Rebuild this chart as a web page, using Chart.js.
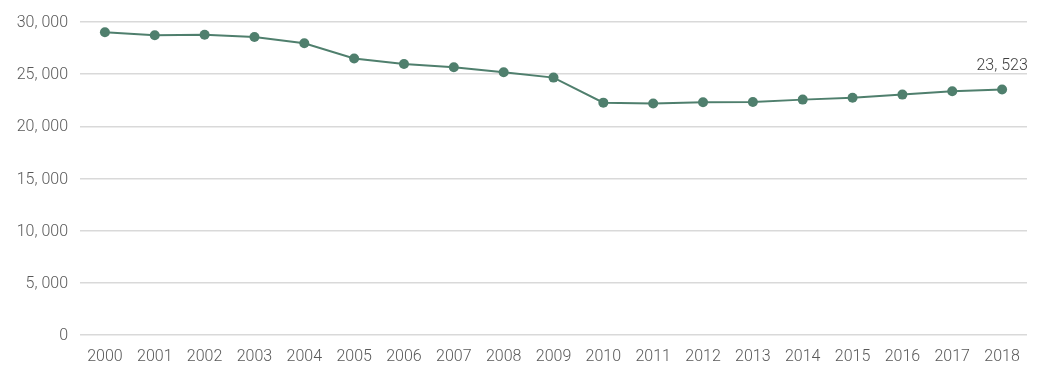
<!DOCTYPE html>
<html>
<head>
<meta charset="utf-8">
<script src="https://cdn.jsdelivr.net/npm/chart.js@4/dist/chart.umd.min.js"></script>
<style>
html,body{margin:0;padding:0;background:#fff;}
#wrap{width:1049px;height:383px;position:relative;}
</style>
</head>
<body>
<div id="wrap"><canvas id="c" width="1049" height="383"></canvas></div>
<script>
const years = ['2000','2001','2002','2003','2004','2005','2006','2007','2008','2009','2010','2011','2012','2013','2014','2015','2016','2017','2018'];
const values = [29010, 28730, 28780, 28560, 27960, 26500, 25980, 25660, 25180, 24670, 22270, 22190, 22300, 22340, 22560, 22740, 23040, 23360, 23523];
const yTicks = [0, 5000, 10000, 15000, 20000, 25000, 30000];
const labelIndex = [18];

const fmt = v => {
  const s = Math.round(v).toString();
  return s.length > 3 ? s.slice(0, -3) + ', ' + s.slice(-3) : s;
};

const FONT = 'Roboto, "Liberation Sans", sans-serif';
const GREEN = '#4f7f6d';

const endLabel = {
  id: 'endLabel',
  afterDatasetsDraw(chart) {
    const ctx = chart.ctx;
    const meta = chart.getDatasetMeta(0);
    ctx.save();
    ctx.font = '300 16px ' + FONT;
    ctx.fillStyle = '#404040';
    ctx.textAlign = 'center';
    ctx.textBaseline = 'alphabetic';
    labelIndex.forEach(i => {
      const p = meta.data[i];
      ctx.fillText(fmt(values[i]), p.x, p.y - 20);
    });
    ctx.restore();
  }
};

new Chart(document.getElementById('c'), {
  type: 'line',
  data: {
    labels: years,
    datasets: [{
      data: values,
      borderColor: GREEN,
      backgroundColor: GREEN,
      borderWidth: 2,
      pointRadius: 5,
      pointBackgroundColor: GREEN,
      pointBorderColor: GREEN,
      pointBorderWidth: 0,
      tension: 0,
      fill: false
    }]
  },
  options: {
    responsive: false,
    animation: false,
    devicePixelRatio: 1,
    layout: { padding: { top: 22, right: 22, left: 0, bottom: 0 } },
    plugins: { legend: { display: false }, tooltip: { enabled: false } },
    scales: {
      x: {
        offset: true,
        grid: { display: false, drawTicks: false },
        border: { display: false },
        ticks: { color: '#595959', font: { family: FONT, size: 16, weight: '300' }, padding: 12, maxRotation: 0, autoSkip: false },
        afterFit(s) { s.height = 48; }
      },
      y: {
        min: 0, max: 30000,
        afterBuildTicks(s) { s.ticks = yTicks.map(v => ({ value: v })); },
        grid: { color: '#d9d9d9', lineWidth: 1.5, drawTicks: false },
        border: { display: false },
        ticks: { color: '#595959', font: { family: FONT, size: 16, weight: '300' }, padding: 12, labelOffset: 1, callback: v => fmt(v) },
        afterFit(s) { s.width = 80; }
      }
    }
  },
  plugins: [endLabel]
});
</script>
</body>
</html>
